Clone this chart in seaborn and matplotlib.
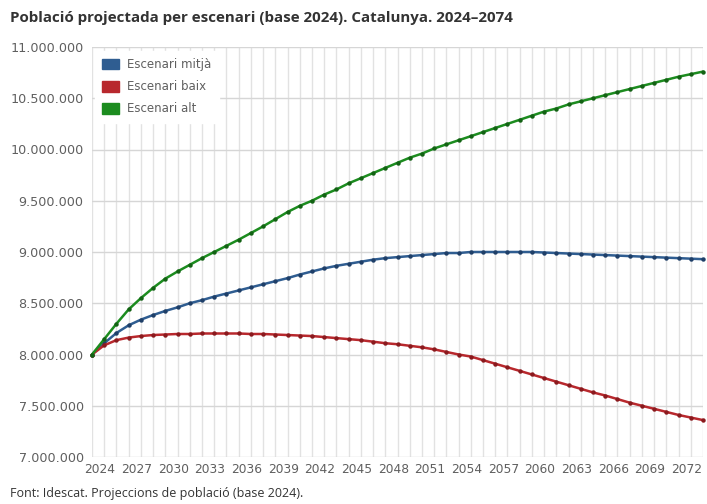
import matplotlib
matplotlib.use("Agg")
import matplotlib.pyplot as plt
import seaborn as sns
import pandas as pd
from matplotlib.patches import Patch
from matplotlib.ticker import FuncFormatter, MultipleLocator
from matplotlib.transforms import ScaledTranslation

# ---------------- data (population, millions) ----------------
years = list(range(2024, 2075))

mitja = [8.00, 8.11, 8.21, 8.285, 8.34, 8.385, 8.425, 8.46, 8.50, 8.53,
         8.565, 8.595, 8.625, 8.655, 8.685, 8.715, 8.745, 8.78, 8.81, 8.84,
         8.865, 8.885, 8.905, 8.925, 8.94, 8.95, 8.96, 8.97, 8.98, 8.99,
         8.99, 9.00, 9.00, 9.00, 9.00, 9.00, 9.00, 8.995, 8.99, 8.985,
         8.98, 8.975, 8.97, 8.965, 8.96, 8.955, 8.95, 8.945, 8.94, 8.935,
         8.93]

baix = [8.00, 8.09, 8.14, 8.165, 8.18, 8.19, 8.195, 8.20, 8.20, 8.205,
        8.205, 8.205, 8.205, 8.20, 8.20, 8.195, 8.19, 8.185, 8.18, 8.17,
        8.16, 8.15, 8.14, 8.125, 8.11, 8.10, 8.085, 8.07, 8.05, 8.025,
        8.00, 7.98, 7.945, 7.91, 7.875, 7.84, 7.805, 7.77, 7.735, 7.70,
        7.665, 7.63, 7.60, 7.565, 7.53, 7.50, 7.47, 7.44, 7.41, 7.385,
        7.36]

alt = [8.00, 8.15, 8.30, 8.44, 8.55, 8.65, 8.74, 8.81, 8.875, 8.94,
       9.00, 9.06, 9.12, 9.185, 9.25, 9.32, 9.39, 9.45, 9.50, 9.56,
       9.61, 9.67, 9.72, 9.77, 9.82, 9.87, 9.92, 9.96, 10.01, 10.05,
       10.09, 10.13, 10.17, 10.21, 10.25, 10.29, 10.33, 10.37, 10.40, 10.44,
       10.47, 10.50, 10.53, 10.56, 10.59, 10.62, 10.65, 10.68, 10.71, 10.735,
       10.76]

scenarios = ["Escenari mitjà", "Escenari baix", "Escenari alt"]
x_tick_years = list(range(2024, 2073, 3))

title = "Població projectada per escenari (base 2024). Catalunya. 2024–2074"
source = "Font: Idescat. Projeccions de població (base 2024)."

# ---------------- table ----------------
series = {"Escenari mitjà": mitja, "Escenari baix": baix, "Escenari alt": alt}
rows = []
for name in scenarios:
    for yr, v in zip(years, series[name]):
        rows.append({"any": yr, "poblacio": v * 1_000_000, "escenari": name})
df = pd.DataFrame(rows)

line_colors = {"Escenari mitjà": "#2f5d91", "Escenari baix": "#b8282d", "Escenari alt": "#1c8c1f"}
dot_colors = {"Escenari mitjà": "#1f3f68", "Escenari baix": "#8a1a1e", "Escenari alt": "#136214"}

# ---------------- plot ----------------
sns.set_theme(style="white")
plt.rcParams["font.family"] = ["DejaVu Sans"]

W, H = 707, 504
fig = plt.figure(figsize=(W / 100, H / 100), dpi=100)
L, R, T, B = 92, 703, 47, 457
ax = fig.add_axes([L / W, 1 - B / H, (R - L) / W, (B - T) / H])

for name in scenarios:
    sns.lineplot(data=df[df["escenari"] == name], x="any", y="poblacio",
                 color=line_colors[name], linewidth=1.8,
                 marker="o", markersize=3.2,
                 markerfacecolor=dot_colors[name], markeredgecolor=dot_colors[name],
                 markeredgewidth=0, ax=ax, legend=False, zorder=3, clip_on=False)

ax.set_xlim(2024, 2074)
ax.set_ylim(7_000_000, 11_000_000)
ax.set_xticks(x_tick_years)
ax.xaxis.set_minor_locator(MultipleLocator(1))
ax.yaxis.set_major_locator(MultipleLocator(500_000))
ax.yaxis.set_major_formatter(FuncFormatter(lambda v, p: f"{int(round(v)):,}".replace(",", ".")))

ax.grid(which="both", axis="x", color="#e2e2e2", linewidth=1.0, zorder=0)
ax.grid(which="major", axis="y", color="#d6d6d6", linewidth=1.0, zorder=0)
ax.set_axisbelow(True)
for s in ax.spines.values():
    s.set_visible(False)

ax.tick_params(axis="both", which="both", length=0)
ax.tick_params(axis="y", labelsize=9.2, labelcolor="#5f5f5f", pad=6)
ax.tick_params(axis="x", labelsize=8.8, labelcolor="#5f5f5f", pad=4)
ax.set_xlabel("")
ax.set_ylabel("")
off = ScaledTranslation(8 / 100, 0, fig.dpi_scale_trans)
for lab in ax.get_xticklabels():
    lab.set_transform(lab.get_transform() + off)

handles = [Patch(facecolor=line_colors[n], edgecolor=line_colors[n], label=n) for n in scenarios]
leg = ax.legend(handles=handles, loc="upper left",
                bbox_to_anchor=(95 / W, 1 - 51 / H), bbox_transform=fig.transFigure,
                borderaxespad=0, borderpad=0.6, frameon=True, framealpha=1,
                facecolor="white", edgecolor="white", fancybox=False,
                fontsize=8.5, labelcolor="#5f5f5f",
                handlelength=1.45, handleheight=1.0, handletextpad=0.7,
                labelspacing=0.78)
leg.set_zorder(5)

fig.text(10 / W, 1 - 18 / H, title, fontsize=10.9, fontweight="bold",
         family=["Open Sans", "DejaVu Sans"], color="#333333", va="center", ha="left")
fig.text(10 / W, 1 - 494 / H, source, fontsize=9,
         family=["Open Sans", "DejaVu Sans"], color="#333333", va="center", ha="left")

fig.savefig("out.png", dpi=100, facecolor="white")
